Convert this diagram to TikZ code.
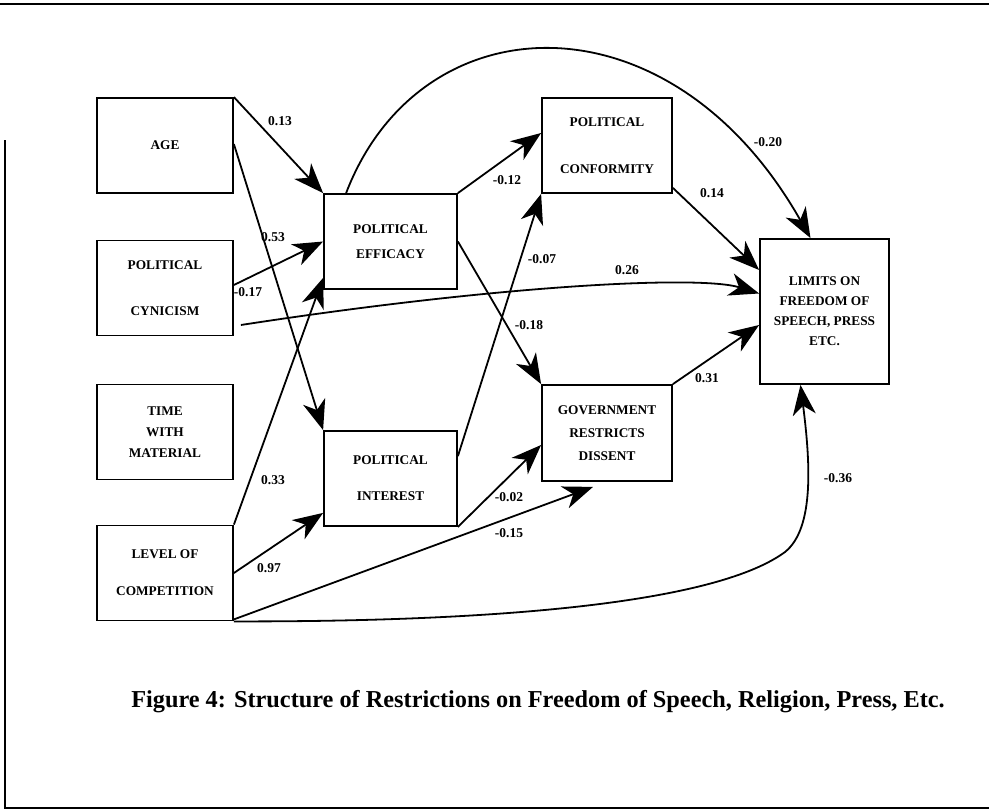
\documentclass[tikz,border=0pt]{standalone}
\usepackage{fontspec}
\setmainfont{Liberation Serif}
\usepackage{tikz}
\usetikzlibrary{arrows.meta, calc}

\begin{document}
\begin{tikzpicture}[x=1pt, y=-1pt,
    box/.style={draw, line width=1.8pt, align=center, inner sep=0pt,
        minimum width=134pt, minimum height=95pt,
        font=\fontsize{13.3}{21}\selectfont\bfseries},
    link/.style={line width=1.8pt, -{Stealth[length=30pt,width=23pt,inset=9pt]}},
    coef/.style={font=\fontsize{13.5}{15}\selectfont\bfseries, inner sep=0pt}]

    \useasboundingbox (0,0) rectangle (989,811);

    % Draw the frame
    \draw[line width=1.8pt] (0,4) -- (989,4);
    \draw[line width=1.2pt] (5,140) -- (5,808) -- (989,808);

    % Draw the boxes of the model
    \node[box, minimum width=136pt] (age) at (165,145.5) {AGE};
    \node[box, minimum width=136pt] (cyn) at (165,288) {POLITICAL\\[25pt]CYNICISM};
    \node[box, minimum width=136pt] (time) at (165,432) {TIME\\WITH\\MATERIAL};
    \node[box, minimum width=136pt] (level) at (165,573) {LEVEL OF\\[16pt]COMPETITION};
    \node[box, minimum width=133pt] (eff) at (390.5,241.5) {POLITICAL\\[4pt]EFFICACY};
    \node[box, minimum width=133pt] (int) at (390.5,478.5) {POLITICAL\\[15pt]INTEREST};
    \node[box, minimum width=130pt] (conf) at (607,145.5) {POLITICAL\\[26pt]CONFORMITY};
    \node[box, minimum width=130pt, minimum height=96pt] (gov) at (607,433) {GOVERNMENT\\[2pt]RESTRICTS\\[2pt]DISSENT};
    \node[box, minimum width=129pt, minimum height=145pt] (lim) at (824.5,311.5) {LIMITS ON\\[-1pt]FREEDOM OF\\[-1pt]SPEECH, PRESS\\[-1pt]ETC.};

    % Draw the paths
    \draw[link] (age.north east) -- (eff.north west);
    \draw[link] ([yshift=-47pt]age.north east) -- (int.north west);
    \draw[link] ([yshift=3pt]cyn.east) -- (eff.west);
    \draw[link] ([xshift=7pt,yshift=-37pt]cyn.east) .. controls (500,285) and (700,275) .. ([yshift=18pt]lim.west);
    \draw[link] (level.north east) -- ([yshift=12pt]eff.south west);
    \draw[link] (level.east) -- ([yshift=14pt]int.south west);
    \draw[link] ([yshift=2pt]level.south east) -- ([xshift=-14pt,yshift=-5pt]gov.south);
    \draw[link] (level.south east) .. controls (520,622) and (720,600) .. (785,552)
        .. controls (815,528) and (810,460) .. ([xshift=-24pt]lim.south);
    \draw[link] (eff.north east) -- ([yshift=12.5pt]conf.west);
    \draw[link] (eff.east) -- (gov.north west);
    \draw[link] ([xshift=23pt]eff.north west) .. controls (420,0) and (670,-10) .. ([xshift=-14pt]lim.north);
    \draw[link] ([yshift=-26pt]int.north east) -- (conf.south west);
    \draw[link] (int.south east) -- ([yshift=-12pt]gov.west);
    \draw[link] ([yshift=6pt]conf.south east) -- ([yshift=41.5pt]lim.west);
    \draw[link] (gov.north east) -- ([yshift=-13.5pt]lim.west);

    % Label the path coefficients
    \node[coef] (wAgeEff) at (280,121) {0.13};
    \node[coef] (wAgeInt) at (273,237) {0.53};
    \node[coef] (wCynEff) at (248,292) {-0.17};
    \node[coef] (wCynLim) at (627,270) {0.26};
    \node[coef] (wLevEff) at (273,480) {0.33};
    \node[coef] (wLevInt) at (269,568) {0.97};
    \node[coef] (wLevGov) at (509,533) {-0.15};
    \node[coef] (wLevLim) at (838,478) {-0.36};
    \node[coef] (wEffConf) at (507,180) {-0.12};
    \node[coef] (wEffGov) at (529,325) {-0.18};
    \node[coef] (wEffLim) at (768,142) {-0.20};
    \node[coef] (wIntConf) at (542,259) {-0.07};
    \node[coef] (wIntGov) at (509,497) {-0.02};
    \node[coef] (wConfLim) at (712,193) {0.14};
    \node[coef] (wGovLim) at (707,378) {0.31};

    % Caption
    \node[font=\fontsize{24.3}{28}\selectfont\bfseries] (caption) at (538,702)
        {Figure 4: Structure of Restrictions on Freedom of Speech, Religion, Press, Etc.};

\end{tikzpicture}
\end{document}
